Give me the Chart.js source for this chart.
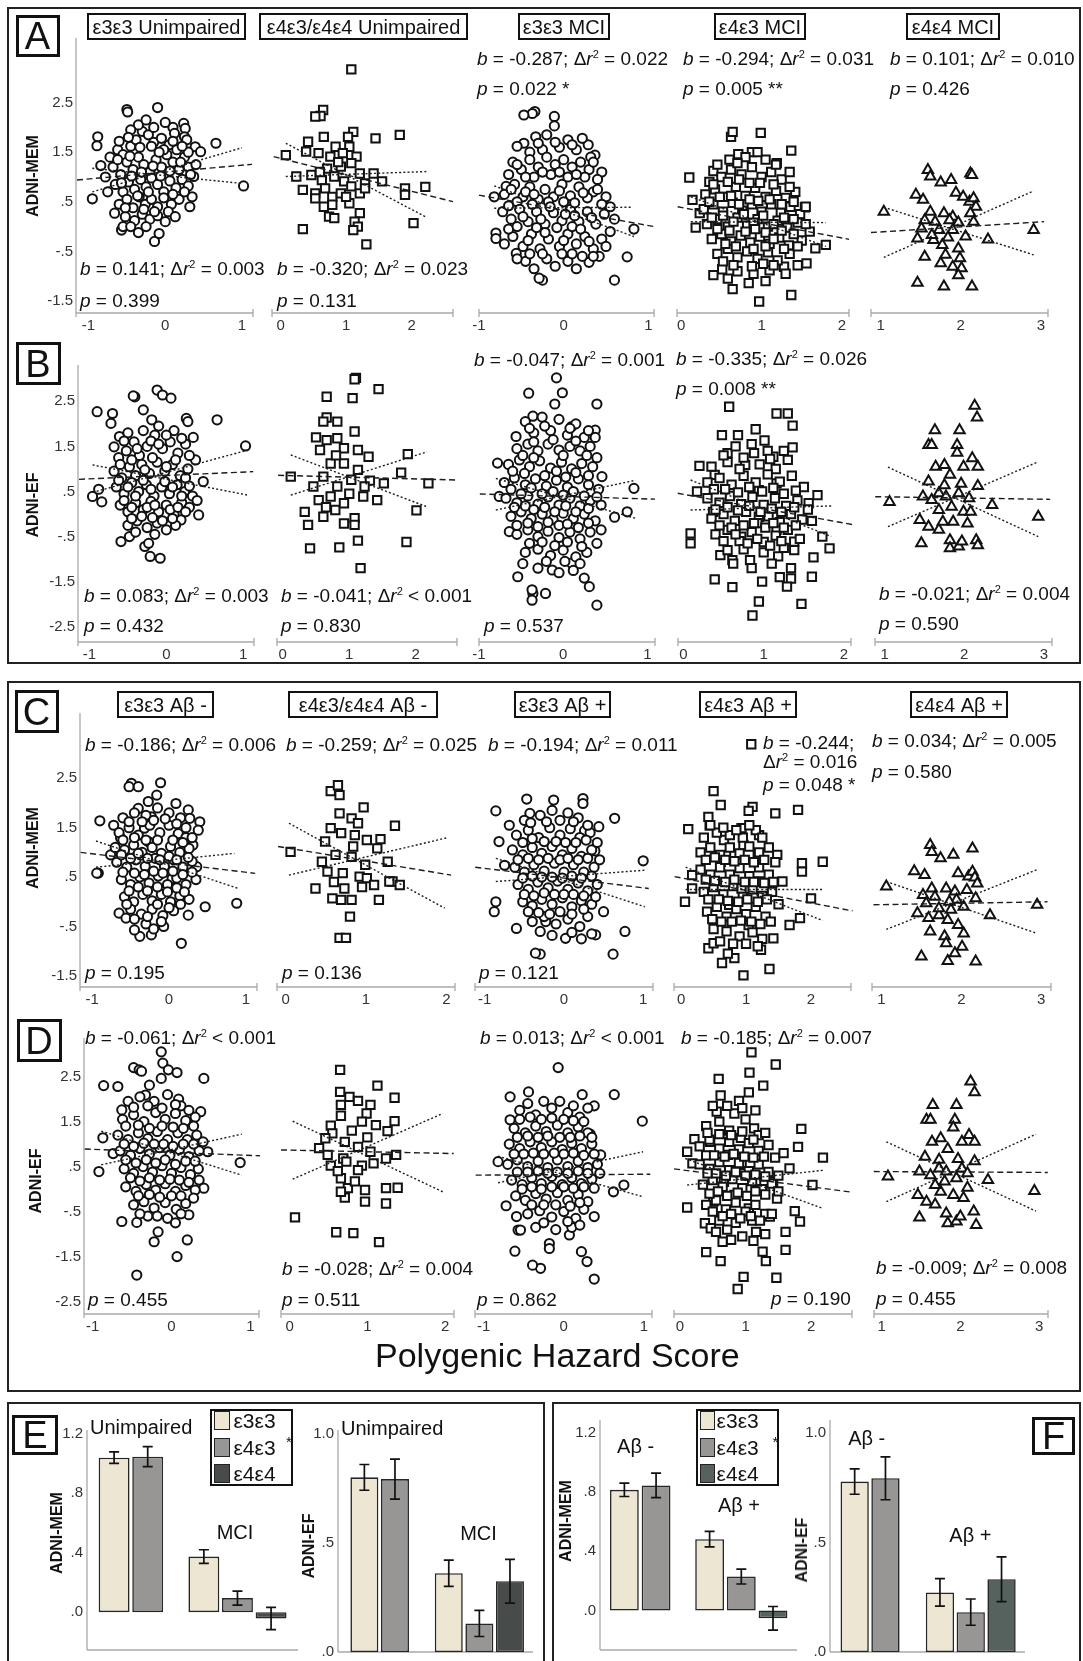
<!DOCTYPE html>
<html><head><meta charset="utf-8">
<script src="https://cdn.jsdelivr.net/npm/chart.js"></script>
<style>
html,body{margin:0;padding:0;background:#fff;}
body{width:1083px;height:1661px;position:relative;overflow:hidden;font-family:'Liberation Sans',Arial,Helvetica,sans-serif;color:#111;}
.frame{position:absolute;border:2px solid #222;box-sizing:border-box;}
.letter{position:absolute;border:3px solid #111;box-sizing:border-box;font-size:38px;display:flex;align-items:center;justify-content:center;line-height:1;}
.title{position:absolute;border:2px solid #111;box-sizing:border-box;font-size:20px;display:flex;align-items:center;justify-content:center;white-space:nowrap;line-height:1;}
.stat{position:absolute;font-size:19px;line-height:19px;white-space:nowrap;}
.stat sup{font-size:11px;line-height:0;vertical-align:7px;}
.lab{position:absolute;font-size:20px;line-height:20px;white-space:nowrap;}
.ylab{position:absolute;font-size:16px;font-weight:bold;white-space:nowrap;line-height:1;transform:translate(-50%,-50%) rotate(-90deg);}
.sw{position:absolute;border:1.5px solid #222;box-sizing:border-box;}
.lg{position:absolute;font-size:21px;line-height:21px;white-space:nowrap;}
canvas{position:absolute;}
</style></head><body>
<script>
// ---------------- DATA ----------------
const xTickVals = [[-1,0,1],[0,1,2],[-1,0,1],[0,1,2],[1,2,3]];
const yTicksMEM = [-1.5,-0.5,0.5,1.5,2.5];
const yTextMEM = ['-1.5','-.5','.5','1.5','2.5'];
const yTicksEF = [-2.5,-1.5,-0.5,0.5,1.5,2.5];
const yTextEF = ['-2.5','-1.5','-.5','.5','1.5','2.5'];

// Panel A : ADNI-MEM by clinical group
const ptsA1 = [[1.02,0.82],[0.66,1.68],[-0.95,0.56],[-0.88,1.81],[-0.89,1.63],[-0.84,1.23],[-0.50,2.36],[-0.49,2.31],[-0.10,2.40],[-0.14,-0.30],[-0.08,-0.14],[-0.57,-0.07],[-0.55,0.00],[-0.66,0.27],[0.24,2.08],[0.10,2.00],[0.26,1.98],[0.25,1.81],[0.39,1.61],[0.46,1.51],[0.37,1.01],
[-0.62,1.55],[-0.55,1.45],[-0.45,1.62],[-0.38,1.75],[-0.30,1.92],[-0.22,1.85],[-0.15,1.70],[-0.05,1.78],[0.05,1.65],[0.15,1.55],
[-0.68,1.20],[-0.58,1.05],[-0.50,1.30],[-0.42,1.15],[-0.35,1.40],[-0.28,1.25],[-0.20,1.10],[-0.12,1.35],[-0.05,1.20],[0.02,1.45],[0.10,1.30],[0.18,1.15],[0.25,1.40],
[-0.65,0.85],[-0.55,0.70],[-0.48,0.90],[-0.40,0.75],[-0.32,0.95],[-0.25,0.80],[-0.18,0.98],[-0.10,0.85],[-0.02,0.70],[0.06,0.92],[0.14,0.78],[0.22,0.95],[0.30,0.82],
[-0.60,0.45],[-0.50,0.55],[-0.42,0.38],[-0.34,0.60],[-0.26,0.45],[-0.18,0.55],[-0.10,0.40],[-0.02,0.58],[0.08,0.45],[0.18,0.55],
[-0.52,0.20],[-0.40,0.12],[-0.30,0.25],[-0.20,0.15],[-0.10,0.22],[0.00,0.10],
[-0.78,1.00],[-0.75,0.70],[-0.72,1.40],[0.30,1.20],[0.35,0.60],[-0.35,2.05],[-0.25,2.15],[-0.15,2.00],[0.00,2.10],[-0.45,1.95],[0.12,1.88],[0.30,1.50],[0.40,1.25],[0.32,0.40],[0.28,1.75],
[-0.60,1.72],[-0.48,1.80],[-0.33,1.60],[-0.18,1.62],[-0.02,1.55],[0.10,1.72],[0.22,1.62],
[-0.62,1.35],[-0.46,1.42],[-0.31,1.10],[-0.16,1.22],[-0.08,1.50],[0.06,1.12],[0.20,1.30],[0.33,1.05],
[-0.57,0.88],[-0.44,1.02],[-0.36,0.62],[-0.22,0.70],[-0.06,1.02],[0.10,0.65],[0.25,0.70],
[-0.52,0.38],[-0.28,0.35],[-0.14,0.30],[0.04,0.30],[0.13,0.20],[-0.45,0.00],[-0.25,0.00],[-0.35,-0.12]];
const ptsA2 = [[1.08,3.17],[0.65,2.35],[0.61,2.23],[0.53,2.22],[1.11,1.91],[1.45,1.78],[1.82,1.85],[0.42,1.71],[0.66,1.81],[0.84,1.61],[1.03,1.81],[1.05,1.61],[0.08,1.44],[0.39,1.51],[0.58,1.48],[0.76,1.41],[1.16,1.41],[1.08,1.28],[0.71,1.17],[0.92,1.21],[0.47,1.04],[0.63,0.94],[0.82,1.01],[0.97,0.91],[1.42,1.07],[1.55,0.91],[1.29,0.87],[0.34,0.74],[0.53,0.67],[0.68,0.77],[0.79,0.60],[1.08,0.81],[1.21,0.67],[1.29,0.77],[1.90,0.77],[2.21,0.80],[1.90,0.64],[0.53,0.57],[1.05,0.47],[0.79,0.44],[0.74,0.20],[0.82,0.17],[1.21,0.27],[1.13,0.10],[1.18,0.00],[1.11,-0.07],[0.34,-0.05],[2.03,0.07],[1.31,-0.36],[0.95,1.48],[1.21,1.07],[0.24,1.01],[0.92,0.67],[0.66,0.40],[0.88,1.30],[1.00,0.60],[0.60,1.10]];
const ptsA3 = [[-0.34,2.32],[-0.11,2.22],[-0.11,2.03],[-0.37,2.28],[-0.47,2.25],[0.29,1.65],[0.37,1.44],[0.35,0.70],[0.75,-0.61],[0.60,-1.08],[-0.25,-1.08],[0.83,-0.05],[-0.80,-0.13],[-0.80,-0.24],[-0.82,0.60],[-0.68,0.81],[-0.56,-0.54],[-0.29,-1.04],
[-0.33,1.81],[-0.47,1.68],[-0.20,1.85],[0.05,1.75],[-0.05,1.60],[0.15,1.55],[-0.40,1.50],[-0.25,1.55],[0.22,1.78],
[-0.60,1.30],[-0.50,1.15],[-0.40,1.35],[-0.30,1.20],[-0.20,1.40],[-0.10,1.25],[0.00,1.35],[0.10,1.20],[0.20,1.30],[0.30,1.15],[-0.65,1.05],[-0.35,1.00],[-0.15,1.05],[0.05,1.00],[0.25,1.00],[0.45,1.10],
[-0.70,0.65],[-0.58,0.85],[-0.48,0.60],[-0.40,0.80],[-0.30,0.55],[-0.22,0.75],[-0.12,0.60],[-0.02,0.85],[0.08,0.62],[0.18,0.80],[0.28,0.58],[0.40,0.75],[0.50,0.60],[-0.55,0.50],[0.00,0.50],
[-0.72,0.30],[-0.62,0.15],[-0.52,0.35],[-0.42,0.10],[-0.32,0.30],[-0.22,0.05],[-0.12,0.28],[-0.02,0.12],[0.08,0.35],[0.18,0.10],[0.28,0.30],[0.38,0.05],[0.48,0.25],[0.55,0.40],[-0.08,-0.02],
[-0.70,-0.35],[-0.60,-0.20],[-0.48,-0.40],[-0.38,-0.15],[-0.28,-0.45],[-0.18,-0.25],[-0.05,-0.40],[0.05,-0.15],[0.15,-0.35],[0.25,-0.20],[0.35,-0.45],[0.45,-0.25],[0.55,-0.10],
[-0.45,-0.70],[-0.35,-0.85],[-0.20,-0.65],[-0.10,-0.80],[0.05,-0.70],[0.15,-0.85],[0.30,-0.72],[0.42,-0.60],
[-0.55,1.62],[-0.30,1.68],[-0.10,1.70],[0.10,1.65],[0.32,1.40],
[-0.55,1.25],[-0.45,1.00],[-0.25,1.10],[-0.05,1.10],[0.15,1.05],[0.35,1.30],[0.40,0.95],
[-0.62,0.75],[-0.45,0.70],[-0.35,0.65],[-0.18,0.50],[-0.05,0.72],[0.13,0.48],[0.23,0.68],[0.45,0.45],
[-0.65,0.42],[-0.48,0.20],[-0.37,0.45],[-0.27,0.15],[-0.16,0.40],[0.02,0.25],[0.13,0.22],[0.33,0.18],[0.60,0.15],
[-0.65,-0.05],[-0.55,0.00],[-0.42,-0.28],[-0.32,-0.02],[-0.22,-0.12],[0.00,-0.28],[0.10,0.00],[0.20,-0.05],[0.30,-0.30],[0.50,-0.40],
[-0.55,-0.65],[-0.40,-0.55],[-0.25,-0.55],[-0.02,-0.55],[0.10,-0.55],[0.22,-0.60],[0.35,-0.60]];
const ptsA4 = [[0.62,1.81],[0.64,1.91],[0.99,1.89],[1.37,1.53],[0.10,0.99],[0.40,1.12],[0.14,0.54],[0.18,-0.02],[0.23,0.27],[1.54,0.39],[1.80,-0.37],[1.67,-0.44],[0.40,-0.98],[0.51,-0.86],[0.64,-1.26],[0.84,-1.14],[0.97,-1.51],[1.37,-1.38],[0.71,1.46],[0.88,1.50],[1.19,1.28],[1.28,-0.81],[1.45,-0.78],[1.56,-0.74],
[0.35,0.90],[0.50,1.00],[0.62,1.15],[0.75,1.05],[0.88,1.20],[1.00,1.00],[1.12,1.10],[1.25,0.95],
[0.30,0.65],[0.42,0.75],[0.55,0.60],[0.68,0.80],[0.80,0.62],[0.92,0.78],[1.05,0.60],[1.18,0.72],[1.30,0.58],[1.42,0.70],
[0.28,0.35],[0.40,0.45],[0.52,0.30],[0.64,0.48],[0.76,0.32],[0.88,0.45],[1.00,0.30],[1.12,0.45],[1.24,0.28],[1.36,0.40],[1.48,0.25],
[0.32,0.05],[0.45,0.15],[0.58,0.00],[0.70,0.18],[0.82,0.02],[0.95,0.15],[1.08,0.00],[1.20,0.12],[1.32,-0.02],[1.45,0.08],[1.60,-0.10],
[0.38,-0.25],[0.50,-0.15],[0.62,-0.30],[0.74,-0.18],[0.86,-0.32],[0.98,-0.20],[1.10,-0.35],[1.22,-0.22],[1.34,-0.38],[1.50,-0.28],
[0.45,-0.55],[0.58,-0.45],[0.70,-0.62],[0.82,-0.50],[0.95,-0.65],[1.08,-0.52],[1.20,-0.68],[1.35,-0.55],
[0.60,1.35],[0.80,1.40],[1.05,1.35],[0.70,-0.90],[0.90,-0.95],[1.10,-0.88],
[0.45,1.25],[0.70,1.28],[0.95,1.50],[1.18,1.25],[1.35,1.10],
[0.40,0.85],[0.58,0.90],[0.72,0.95],[0.85,0.88],[0.98,0.88],[1.15,0.85],[1.35,0.80],
[0.35,0.50],[0.48,0.60],[0.62,0.62],[0.72,0.45],[0.85,0.55],[0.96,0.52],[1.10,0.55],[1.25,0.45],[1.40,0.50],[1.55,0.40],
[0.38,0.18],[0.52,0.22],[0.65,0.10],[0.78,0.25],[0.90,0.08],[1.02,0.22],[1.15,0.05],[1.28,0.18],[1.40,0.15],[1.55,0.05],
[0.45,-0.05],[0.60,-0.08],[0.80,-0.10],[0.92,-0.05],[1.05,-0.12],[1.25,-0.08],[1.40,-0.15],
[0.55,-0.35],[0.68,-0.40],[0.90,-0.45],[1.05,-0.40],[1.15,-0.25],[1.28,-0.45],[1.45,-0.40],
[0.52,-0.70],[0.65,-0.78],[0.88,-0.80],[1.02,-0.75],[1.15,-0.78],[1.30,-0.95],[0.58,-1.05],[1.05,-1.10]];
const ptsA5 = [[1.59,1.14],[1.62,1.01],[1.75,0.89],[1.88,0.94],[2.12,1.07],[2.14,1.04],[1.44,0.64],[1.53,0.54],[1.94,0.68],[2.03,0.60],[2.11,0.50],[2.16,0.57],[2.19,0.40],[1.04,0.30],[1.62,0.30],[1.79,0.27],[1.90,0.20],[2.12,0.27],[1.55,0.13],[1.68,0.10],[1.86,0.13],[1.97,0.08],[2.16,0.10],[1.51,-0.04],[1.73,-0.07],[1.90,-0.07],[1.46,-0.24],[1.66,-0.27],[1.77,-0.37],[1.97,-0.44],[2.34,-0.26],[2.91,-0.07],[1.55,-0.61],[1.81,-0.57],[1.99,-0.64],[1.75,-0.74],[1.90,-0.81],[2.01,-0.84],[1.97,-0.98],[1.46,-1.13],[1.79,-1.21],[2.14,-1.21],[2.06,-0.20],[1.64,-0.17],[1.84,-0.22]];
// Panel B : ADNI-EF by clinical group
const ptsB1 = [[-0.90,2.27],[-0.70,2.23],[-0.72,2.01],[-0.41,2.60],[-0.43,2.62],[-0.12,2.75],[-0.05,2.64],[0.06,2.57],[0.26,2.12],[0.28,2.05],[0.66,2.09],[1.03,1.51],[-0.96,0.39],[-0.88,0.55],[-0.84,0.27],[0.48,0.72],[0.42,-0.02],[-0.59,-0.61],[-0.48,-0.50],[-0.28,-0.72],[-0.21,-0.94],[-0.08,-0.98],[-0.23,-0.65],[0.19,-0.13],[-0.68,1.49],[-0.61,1.72],[-0.30,2.31],[-0.19,2.09],
[-0.62,1.25],[-0.52,1.40],[-0.42,1.60],[-0.35,1.30],[-0.25,1.50],[-0.15,1.75],[-0.05,1.45],[0.05,1.60],[0.15,1.35],[0.25,1.55],
[-0.68,0.95],[-0.58,0.80],[-0.48,1.05],[-0.40,0.85],[-0.32,1.10],[-0.22,0.90],[-0.12,1.15],[-0.02,0.95],[0.08,1.10],[0.18,0.85],[0.28,1.00],
[-0.65,0.60],[-0.55,0.45],[-0.45,0.70],[-0.36,0.50],[-0.26,0.65],[-0.16,0.40],[-0.06,0.60],[0.04,0.45],[0.14,0.65],[0.24,0.50],[0.34,0.40],
[-0.60,0.20],[-0.50,0.05],[-0.40,0.25],[-0.30,0.10],[-0.20,0.28],[-0.10,0.05],[0.00,0.20],[0.10,0.00],[0.20,0.25],[0.30,0.15],
[-0.50,-0.25],[-0.38,-0.15],[-0.25,-0.30],[-0.12,-0.20],[0.00,-0.35],[0.12,-0.25],[-0.30,1.85],[-0.10,1.95],[0.10,1.85],[-0.50,1.80],[0.38,1.20],[0.40,0.30],[0.35,1.70],
[-0.55,1.62],[-0.38,1.45],[-0.20,1.62],[-0.10,1.55],[0.00,1.75],[0.20,1.68],[0.30,1.30],
[-0.60,1.10],[-0.45,1.20],[-0.28,0.98],[-0.18,1.25],[0.00,1.05],[0.12,1.20],[0.25,0.80],
[-0.62,0.75],[-0.50,0.60],[-0.40,0.40],[-0.30,0.75],[-0.20,0.55],[-0.02,0.72],[0.08,0.60],[0.20,0.40],[0.30,0.62],
[-0.55,0.30],[-0.45,0.15],[-0.25,0.15],[-0.15,0.20],[0.05,0.10],[0.15,0.15],[0.25,0.05],
[-0.45,-0.10],[-0.32,-0.05],[-0.18,-0.08],[-0.05,-0.15],[0.08,-0.10],[-0.40,-0.40],[-0.15,-0.45]];
const ptsB2 = [[1.10,3.02],[1.08,2.99],[1.44,2.77],[0.66,2.60],[1.05,2.57],[0.66,2.14],[0.61,2.05],[0.82,2.05],[1.08,1.83],[0.50,1.70],[0.66,1.64],[0.82,1.68],[0.92,1.46],[1.13,1.42],[0.56,1.42],[1.29,1.27],[1.88,1.33],[0.12,0.83],[0.61,0.83],[1.78,0.92],[2.19,0.68],[1.52,0.68],[1.31,0.74],[1.03,0.76],[0.46,0.61],[0.82,0.61],[1.21,0.39],[1.42,0.31],[2.01,0.08],[0.33,0.05],[0.38,-0.24],[0.61,-0.06],[0.79,0.09],[0.92,0.24],[1.08,-0.09],[0.92,-0.21],[1.08,-0.24],[0.41,-0.76],[0.85,-0.74],[1.13,-0.59],[1.86,-0.62],[1.17,-1.20],[0.72,0.39],[0.54,0.31],[1.23,0.61],[0.72,1.12],[0.92,1.12],[1.13,0.98],[0.80,1.30],[1.00,0.45],[0.65,0.15]];
const ptsB3 = [[-0.08,3.02],[-0.01,2.69],[0.40,2.44],[-0.10,2.44],[0.10,1.94],[0.38,1.86],[0.38,1.70],[0.46,0.83],[0.84,0.57],[0.76,0.05],[0.61,-0.07],[0.40,-2.02],[0.25,-1.42],[0.31,-1.61],[0.10,-1.09],[0.40,-0.65],[-0.21,-1.76],[-0.36,-1.76],[-0.13,-1.24],[-0.41,2.68],[-0.36,2.17],[-0.78,1.13],[-0.56,1.72],[-0.54,-1.39],[-0.37,-1.68],[-0.37,-1.91],[-0.64,-0.39],[-0.76,0.39],
[-0.45,2.05],[-0.25,2.15],[-0.05,2.10],[0.15,2.00],[-0.35,1.80],[-0.15,1.85],[0.05,1.75],[0.25,1.70],
[-0.55,1.45],[-0.42,1.55],[-0.30,1.40],[-0.18,1.55],[-0.05,1.42],[0.08,1.50],[0.20,1.40],[0.32,1.50],
[-0.65,1.10],[-0.52,1.20],[-0.40,1.05],[-0.28,1.18],[-0.15,1.02],[-0.02,1.15],[0.10,1.00],[0.22,1.12],[0.35,1.05],
[-0.70,0.70],[-0.58,0.80],[-0.45,0.65],[-0.33,0.78],[-0.20,0.62],[-0.08,0.75],[0.05,0.60],[0.18,0.78],[0.30,0.65],[0.42,0.55],
[-0.68,0.35],[-0.55,0.25],[-0.42,0.40],[-0.30,0.22],[-0.18,0.38],[-0.05,0.20],[0.08,0.35],[0.20,0.18],[0.32,0.30],[0.45,0.20],
[-0.62,-0.05],[-0.50,0.05],[-0.38,-0.10],[-0.25,0.00],[-0.12,-0.12],[0.00,0.02],[0.12,-0.10],[0.25,0.00],[0.38,-0.15],
[-0.55,-0.45],[-0.42,-0.35],[-0.30,-0.50],[-0.18,-0.38],[-0.05,-0.52],[0.08,-0.40],[0.20,-0.55],[0.32,-0.40],
[-0.45,-0.85],[-0.30,-0.78],[-0.15,-0.92],[0.00,-0.80],[0.15,-0.95],[0.28,-0.85],
[-0.30,-1.20],[-0.05,-1.30],[0.12,-1.25],[-0.48,-1.10],
[-0.40,1.90],[-0.22,1.95],[0.08,1.90],[0.30,1.85],
[-0.48,1.30],[-0.35,1.60],[-0.12,1.65],[0.00,1.30],[0.15,1.62],[0.28,1.30],[0.40,1.25],
[-0.60,0.95],[-0.46,0.90],[-0.35,1.25],[-0.22,0.85],[-0.08,0.95],[0.03,0.82],[0.15,0.92],[0.30,0.85],
[-0.62,0.55],[-0.50,0.45],[-0.38,0.58],[-0.25,0.45],[-0.12,0.50],[0.00,0.42],[0.12,0.50],[0.25,0.40],[0.40,0.38],
[-0.58,0.15],[-0.45,0.18],[-0.35,0.10],[-0.22,0.15],[-0.10,0.05],[0.03,0.18],[0.15,0.05],[0.30,0.12],
[-0.55,-0.25],[-0.42,-0.20],[-0.30,-0.28],[-0.18,-0.18],[-0.05,-0.25],[0.05,-0.22],[0.18,-0.30],[0.30,-0.20],[0.45,-0.35],
[-0.40,-0.65],[-0.25,-0.62],[-0.10,-0.70],[0.05,-0.62],[0.22,-0.72],[-0.20,-1.05],[0.02,-1.05],[0.20,-1.10]];
const ptsB4 = [[0.57,2.38],[0.20,1.07],[0.48,1.75],[0.68,1.75],[0.90,1.88],[1.01,1.63],[1.16,2.23],[1.30,2.23],[1.36,1.96],[1.36,1.48],[1.12,1.27],[0.55,1.35],[0.39,0.87],[0.77,1.09],[0.17,0.50],[0.37,0.05],[1.67,0.42],[1.56,0.24],[1.60,-0.15],[1.73,-0.50],[1.82,-0.76],[0.09,-0.43],[0.09,-0.65],[0.46,-0.91],[0.61,-1.02],[0.83,-1.02],[1.18,-0.94],[1.34,-1.20],[1.62,-0.96],[1.60,-1.39],[1.34,-1.43],[1.29,-1.61],[0.39,-1.45],[0.61,-1.62],[0.94,-1.94],[0.86,-2.25],[1.47,-1.99],[0.72,-0.50],[0.94,-0.06],[1.16,-0.35],[1.38,-0.61],[0.94,0.53],[1.16,0.68],
[0.35,1.05],[0.55,1.15],[0.75,1.25],[0.95,1.10],[1.15,1.00],[1.30,1.20],
[0.30,0.70],[0.45,0.80],[0.60,0.65],[0.75,0.85],[0.90,0.70],[1.05,0.88],[1.20,0.72],[1.35,0.85],[1.50,0.60],
[0.30,0.35],[0.45,0.25],[0.58,0.40],[0.72,0.22],[0.86,0.38],[1.00,0.20],[1.14,0.35],[1.28,0.18],[1.42,0.30],
[0.35,-0.10],[0.50,0.00],[0.64,-0.15],[0.78,0.05],[0.92,-0.20],[1.06,-0.05],[1.20,-0.18],[1.34,0.00],[1.48,-0.12],
[0.40,-0.45],[0.55,-0.35],[0.70,-0.60],[0.85,-0.40],[1.00,-0.62],[1.15,-0.48],[1.30,-0.35],[1.45,-0.55],
[0.55,-0.80],[0.75,-0.78],[1.00,-0.85],[1.25,-0.75],[0.65,1.50],[0.85,1.55],[1.05,1.40],
[0.50,1.30],[0.70,1.00],[0.88,1.35],[1.08,1.22],[1.25,1.40],
[0.38,0.55],[0.52,0.55],[0.68,0.48],[0.82,0.60],[0.98,0.50],[1.12,0.58],[1.25,0.45],[1.40,0.52],
[0.40,0.10],[0.55,0.15],[0.68,0.08],[0.82,0.18],[0.96,0.05],[1.10,0.12],[1.22,0.05],[1.38,0.15],[1.55,0.10],
[0.45,-0.25],[0.60,-0.30],[0.75,-0.25],[0.88,-0.20],[1.02,-0.30],[1.12,-0.20],[1.25,-0.30],[1.40,-0.25],
[0.50,-0.60],[0.65,-0.45],[0.80,-0.65],[0.92,-0.55],[1.08,-0.70],[1.22,-0.60],[1.38,-0.80],
[0.62,-1.10],[0.85,-1.20],[1.10,-1.10],[1.20,-1.40],[0.98,-1.50]];
const ptsB5 = [[2.13,2.40],[2.16,2.14],[1.63,1.86],[1.94,1.86],[1.55,1.53],[1.59,1.53],[1.91,1.53],[1.91,1.36],[1.64,1.05],[1.75,1.09],[1.82,0.87],[1.99,1.05],[2.10,1.24],[2.17,1.05],[1.55,0.72],[1.75,0.64],[1.96,0.67],[2.17,0.62],[1.06,0.27],[1.48,0.39],[1.59,0.31],[1.68,0.46],[1.77,0.39],[1.93,0.46],[2.06,0.35],[2.35,0.20],[2.93,-0.06],[1.44,-0.13],[1.55,-0.28],[1.68,-0.35],[1.86,-0.17],[1.99,0.05],[2.08,0.05],[1.46,-0.65],[1.82,-0.58],[1.82,-0.76],[1.93,-0.72],[1.97,-0.61],[2.15,-0.58],[2.17,-0.69],[1.73,-0.17],[1.84,0.16],[1.68,0.09],[2.04,-0.21]];
// Panel C : ADNI-MEM by amyloid group
const ptsC1 = [[-0.49,2.40],[-0.52,2.33],[-0.40,2.33],[-0.11,2.41],[-0.16,2.16],[0.09,1.99],[0.25,1.86],[0.27,1.69],[0.40,1.62],[0.38,1.45],[-0.90,1.64],[-0.72,1.55],[-0.92,0.58],[-0.94,0.58],[0.36,0.71],[0.47,-0.10],[0.88,-0.03],[0.25,-0.27],[0.16,-0.84],[-0.38,-0.70],[-0.23,-0.67],[-0.07,-0.50],[-0.45,-0.57],[-0.65,-0.23],[-0.56,-0.33],[-0.23,1.72],[-0.40,1.89],[-0.27,2.03],[0.31,1.15],[0.04,0.47],[-0.32,1.49],[-0.63,1.29],[-0.76,0.95],[-0.27,1.22],
[-0.60,1.70],[-0.45,1.80],[-0.30,1.75],[-0.15,1.90],[0.00,1.80],[0.15,1.70],
[-0.65,1.40],[-0.52,1.50],[-0.40,1.35],[-0.25,1.55],[-0.12,1.40],[0.00,1.55],[0.12,1.38],[0.22,1.50],
[-0.70,1.10],[-0.58,1.05],[-0.46,1.15],[-0.35,1.00],[-0.22,1.10],[-0.10,0.98],[0.02,1.12],[0.14,1.00],[0.26,1.08],
[-0.68,0.80],[-0.55,0.70],[-0.43,0.85],[-0.31,0.72],[-0.18,0.88],[-0.06,0.72],[0.06,0.85],[0.18,0.70],[0.30,0.82],
[-0.62,0.45],[-0.50,0.35],[-0.38,0.50],[-0.26,0.38],[-0.14,0.52],[-0.02,0.35],[0.10,0.48],[0.22,0.35],[0.35,0.45],
[-0.58,0.10],[-0.46,0.00],[-0.34,0.15],[-0.22,0.02],[-0.10,0.15],[0.02,0.00],[0.14,0.12],[0.26,0.05],
[-0.50,-0.15],[-0.36,-0.25],[-0.22,-0.15],[-0.08,-0.28],[0.06,-0.18],[-0.30,-0.45],[-0.10,-0.40],
[-0.52,1.62],[-0.35,1.62],[-0.20,1.65],[-0.05,1.68],[0.10,1.58],[0.22,1.30],
[-0.60,1.25],[-0.45,1.30],[-0.30,1.25],[-0.15,1.25],[0.05,1.25],[0.18,1.20],[0.30,1.30],
[-0.62,0.95],[-0.50,0.88],[-0.40,0.98],[-0.28,0.88],[-0.12,0.85],[0.00,0.92],[0.10,0.85],[0.25,0.90],
[-0.60,0.60],[-0.45,0.58],[-0.32,0.55],[-0.20,0.62],[-0.08,0.58],[0.05,0.62],[0.18,0.55],[0.30,0.60],
[-0.52,0.22],[-0.40,0.30],[-0.28,0.22],[-0.15,0.30],[-0.02,0.20],[0.10,0.28],[0.20,0.20],
[-0.45,-0.35],[-0.28,-0.30],[-0.15,-0.05],[0.00,-0.12],[0.15,-0.05],[-0.20,-0.55],[-0.55,-0.05]];
const ptsC2 = [[0.56,2.24],[0.65,2.36],[0.67,2.16],[0.97,1.91],[1.36,1.54],[1.18,1.27],[0.67,1.79],[0.82,1.69],[0.90,1.59],[0.56,1.49],[0.69,1.39],[0.86,1.35],[1.01,1.25],[0.06,1.01],[0.82,0.91],[0.99,0.75],[1.27,0.81],[1.33,0.41],[1.42,0.34],[1.29,0.41],[0.52,0.61],[0.71,0.58],[0.92,0.51],[1.01,0.48],[1.16,0.04],[0.37,0.27],[0.58,0.07],[0.69,0.04],[0.82,0.04],[0.80,-0.30],[0.67,-0.73],[0.75,-0.73],[1.10,0.34],[0.62,0.95],[0.49,1.22],[0.73,0.27],[0.45,0.81],[1.14,1.08],[0.84,1.12],[0.95,0.30],[0.60,0.40]];
const ptsC3 = [[-0.13,2.06],[0.24,2.09],[0.24,1.99],[0.64,1.69],[0.44,1.52],[0.26,1.44],[0.39,1.03],[1.00,0.83],[0.77,-0.60],[0.62,-1.06],[-0.30,-1.06],[0.40,-0.67],[0.22,-0.75],[0.50,-0.20],[0.02,-0.74],[-0.23,-0.40],[-0.47,2.08],[-0.86,1.84],[-0.69,1.55],[-0.82,1.22],[-0.75,0.74],[-0.88,-0.20],[-0.86,0.00],[-0.60,-0.54],[-0.36,-1.04],[-0.43,1.79],
[-0.50,1.65],[-0.30,1.75],[-0.15,1.85],[0.05,1.80],[0.18,1.70],
[-0.60,1.35],[-0.45,1.45],[-0.32,1.30],[-0.18,1.50],[-0.05,1.35],[0.08,1.48],[0.20,1.30],[0.33,1.40],
[-0.65,1.05],[-0.52,0.95],[-0.40,1.10],[-0.28,0.98],[-0.15,1.12],[-0.02,0.95],[0.10,1.08],[0.22,0.92],[0.35,1.05],
[-0.62,0.70],[-0.50,0.60],[-0.38,0.75],[-0.25,0.62],[-0.12,0.78],[0.00,0.60],[0.12,0.75],[0.25,0.60],[0.38,0.70],
[-0.58,0.35],[-0.45,0.25],[-0.33,0.40],[-0.20,0.28],[-0.08,0.42],[0.05,0.25],[0.18,0.38],[0.30,0.22],[0.42,0.35],
[-0.52,0.00],[-0.40,-0.08],[-0.28,0.05],[-0.15,-0.05],[-0.02,0.08],[0.10,-0.10],[0.22,0.02],[0.35,-0.05],
[-0.40,-0.40],[-0.25,-0.30],[-0.10,-0.45],[0.05,-0.35],[0.20,-0.50],[0.30,-0.30],
[-0.42,1.60],[-0.22,1.62],[-0.05,1.65],[0.12,1.62],[0.30,1.55],
[-0.52,1.20],[-0.40,1.28],[-0.25,1.22],[-0.10,1.22],[0.02,1.20],[0.15,1.20],[0.28,1.25],[0.42,1.20],
[-0.58,0.85],[-0.45,0.88],[-0.32,0.85],[-0.20,0.88],[-0.05,0.85],[0.05,0.88],[0.18,0.85],[0.30,0.88],[0.45,0.85],
[-0.52,0.48],[-0.40,0.52],[-0.28,0.50],[-0.15,0.50],[-0.02,0.48],[0.10,0.52],[0.22,0.48],[0.35,0.52],
[-0.50,0.15],[-0.38,0.12],[-0.25,0.18],[-0.12,0.15],[0.00,0.15],[0.12,0.15],[0.25,0.12],[0.40,0.10],
[-0.45,-0.20],[-0.32,-0.22],[-0.18,-0.25],[-0.05,-0.20],[0.10,-0.25],[0.25,-0.15],
[-0.30,-0.60],[-0.15,-0.68],[0.10,-0.62],[0.35,-0.65]];
const ptsC4 = [[0.50,2.24],[0.61,1.96],[1.10,1.92],[1.04,1.84],[1.45,1.79],[1.80,1.86],[0.11,1.47],[0.42,1.72],[0.44,1.55],[0.93,1.49],[1.20,1.35],[0.66,1.25],[0.96,1.15],[1.18,0.95],[1.48,0.95],[1.86,0.78],[2.18,0.81],[1.86,0.61],[0.17,0.54],[0.06,0.00],[0.17,0.27],[1.56,0.41],[2.00,0.07],[1.83,-0.33],[1.67,-0.47],[1.42,-0.74],[0.42,-0.94],[0.50,-0.84],[0.63,-1.24],[0.82,-1.14],[0.96,-1.49],[1.36,-1.36],[1.23,-0.97],[1.04,-0.47],[0.74,-0.06],[0.93,0.27],[1.20,0.41],[0.61,0.81],[0.82,0.95],[1.08,3.19],
[0.35,1.30],[0.55,1.40],[0.75,1.35],[0.95,1.30],[1.15,1.45],
[0.30,1.00],[0.45,1.10],[0.60,0.95],[0.75,1.10],[0.90,0.98],[1.05,1.12],[1.20,1.00],[1.35,1.10],
[0.30,0.65],[0.45,0.55],[0.60,0.70],[0.75,0.55],[0.90,0.68],[1.05,0.52],[1.20,0.70],[1.35,0.55],
[0.35,0.20],[0.50,0.30],[0.65,0.15],[0.80,0.32],[0.95,0.10],[1.10,0.25],[1.25,0.12],[1.40,0.20],
[0.40,-0.20],[0.55,-0.10],[0.70,-0.30],[0.85,-0.15],[1.00,-0.25],[1.15,-0.10],[1.30,-0.30],
[0.50,-0.55],[0.70,-0.60],[0.90,-0.70],[1.10,-0.62],[1.25,-0.75],
[0.45,1.55],[0.65,1.50],[0.85,1.45],[1.05,1.55],[1.25,1.30],
[0.38,0.85],[0.52,0.90],[0.68,0.85],[0.82,0.82],[0.98,0.85],[1.12,0.80],[1.28,0.85],[1.45,0.80],
[0.38,0.45],[0.52,0.42],[0.68,0.40],[0.82,0.45],[0.98,0.40],[1.12,0.40],[1.28,0.38],[1.42,0.40],
[0.42,0.05],[0.58,0.05],[0.72,0.02],[0.88,0.00],[1.02,0.05],[1.18,0.00],[1.32,0.05],[1.50,-0.05],
[0.48,-0.35],[0.62,-0.40],[0.78,-0.40],[0.92,-0.38],[1.08,-0.40],[1.22,-0.45],[1.38,-0.40],
[0.60,-0.80],[0.80,-0.85],[1.00,-0.85],[1.18,-0.90],[0.72,-1.05]];
const ptsC5 = [[1.61,1.15],[1.63,1.01],[1.74,0.88],[1.90,0.95],[2.14,1.08],[1.41,0.62],[1.54,0.54],[1.96,0.58],[2.09,0.51],[2.14,0.61],[2.17,0.49],[2.20,0.37],[1.06,0.31],[1.63,0.27],[1.81,0.27],[1.92,0.21],[2.07,0.24],[1.52,0.14],[1.67,0.10],[1.94,0.04],[2.18,0.07],[1.56,-0.03],[1.87,-0.16],[2.03,-0.10],[2.95,-0.06],[1.45,-0.23],[1.59,-0.33],[1.72,-0.27],[1.83,-0.37],[1.96,-0.47],[2.36,-0.27],[1.61,-0.60],[1.79,-0.70],[2.03,-0.64],[1.81,-0.84],[2.01,-0.91],[1.92,-1.04],[1.50,-1.11],[1.83,-1.20],[2.18,-1.21],[1.72,-0.13],[1.85,0.00]];
// Panel D : ADNI-EF by amyloid group
const ptsD1 = [[-0.13,3.05],[-0.11,2.80],[-0.04,2.65],[0.07,2.59],[-0.48,2.70],[-0.41,2.65],[-0.38,2.62],[0.41,2.46],[-0.86,2.30],[-0.68,2.28],[-0.28,2.31],[-0.63,1.76],[0.37,1.72],[-0.87,1.14],[-0.92,0.39],[-0.74,0.79],[0.46,0.83],[0.87,0.59],[0.41,0.02],[0.22,-0.57],[-0.63,-0.72],[-0.44,-0.74],[-0.17,-0.95],[-0.22,-1.17],[0.20,-1.13],[0.07,-1.50],[-0.44,-1.91],[-0.13,2.46],[0.09,2.00],[-0.33,2.09],
[-0.55,1.95],[-0.40,2.05],[-0.22,1.95],[-0.05,2.10],[0.12,1.85],
[-0.62,1.55],[-0.48,1.65],[-0.35,1.50],[-0.20,1.70],[-0.08,1.55],[0.05,1.68],[0.18,1.52],[0.30,1.60],
[-0.68,1.20],[-0.55,1.10],[-0.42,1.25],[-0.30,1.12],[-0.18,1.28],[-0.05,1.10],[0.08,1.25],[0.20,1.10],[0.32,1.20],
[-0.65,0.85],[-0.52,0.75],[-0.40,0.90],[-0.28,0.78],[-0.15,0.92],[-0.02,0.75],[0.10,0.88],[0.22,0.72],[0.35,0.85],
[-0.60,0.45],[-0.48,0.35],[-0.36,0.50],[-0.24,0.38],[-0.12,0.52],[0.00,0.35],[0.12,0.48],[0.24,0.32],[0.34,0.45],
[-0.58,0.05],[-0.45,-0.05],[-0.32,0.10],[-0.20,-0.02],[-0.08,0.12],[0.05,-0.05],[0.18,0.08],[0.30,-0.02],
[-0.48,-0.35],[-0.35,-0.28],[-0.22,-0.42],[-0.08,-0.30],[0.06,-0.45],[0.18,-0.32],[-0.30,-0.60],[-0.05,-0.65],
[-0.48,1.82],[-0.30,1.85],[-0.12,1.80],[0.05,1.88],[0.22,1.75],
[-0.58,1.40],[-0.42,1.42],[-0.28,1.35],[-0.12,1.40],[0.02,1.38],[0.15,1.35],[0.28,1.40],
[-0.60,1.00],[-0.48,0.95],[-0.35,1.02],[-0.22,1.00],[-0.10,1.00],[0.02,0.95],[0.15,1.00],[0.28,1.00],[0.40,1.05],
[-0.58,0.65],[-0.45,0.58],[-0.32,0.65],[-0.20,0.58],[-0.08,0.65],[0.05,0.55],[0.18,0.62],[0.30,0.62],
[-0.52,0.25],[-0.40,0.18],[-0.28,0.25],[-0.15,0.20],[-0.02,0.22],[0.10,0.20],[0.22,0.15],[0.35,0.20],
[-0.42,-0.15],[-0.28,-0.12],[-0.15,-0.18],[0.00,-0.15],[0.12,-0.15],[0.28,-0.20],
[-0.40,-0.55],[-0.18,-0.60],[0.05,-0.75],[0.12,-0.55]];
const ptsD2 = [[0.65,2.65],[1.13,2.30],[1.35,2.03],[0.65,2.16],[0.77,2.05],[0.88,1.96],[1.04,1.87],[0.66,1.87],[0.99,1.68],[1.35,1.51],[0.66,1.63],[0.93,1.50],[1.11,1.42],[0.53,1.41],[1.26,1.29],[0.55,1.24],[0.38,0.91],[1.04,0.83],[1.37,0.76],[1.24,0.68],[0.69,0.68],[0.53,0.52],[0.93,0.52],[1.08,0.57],[0.66,0.24],[0.88,0.42],[0.75,0.02],[1.24,0.02],[1.39,0.03],[0.71,-0.19],[0.97,-0.28],[1.24,-0.32],[0.07,-0.63],[0.60,-0.96],[0.82,-0.98],[1.15,-1.18],[0.46,1.13],[0.71,1.05],[0.88,0.94],[0.73,0.61],[0.49,0.76],[0.84,0.17],[0.66,-0.06],[0.97,-0.02],[0.80,1.30],[1.00,1.15],[0.62,0.40]];
const ptsD3 = [[-0.07,2.70],[0.23,2.10],[0.63,2.10],[0.38,1.85],[0.98,1.51],[0.33,1.22],[0.46,0.76],[0.75,0.09],[0.62,-0.06],[0.38,-0.61],[0.22,-1.39],[0.29,-1.61],[0.38,-2.00],[-0.18,-1.21],[-0.18,-1.32],[-0.29,-1.76],[0.07,-1.02],[-0.67,2.05],[-0.44,2.16],[-0.67,1.54],[-0.82,0.61],[-0.72,-0.37],[-0.61,-1.38],[-0.57,-0.91],[-0.54,-0.91],[-0.39,-1.69],[-0.59,-0.61],
[-0.55,1.75],[-0.35,1.65],[-0.15,1.80],[0.05,1.70],[0.20,1.60],
[-0.62,1.35],[-0.48,1.25],[-0.35,1.40],[-0.22,1.28],[-0.08,1.42],[0.05,1.25],[0.18,1.38],[0.30,1.25],
[-0.68,1.00],[-0.55,0.90],[-0.42,1.05],[-0.28,0.92],[-0.15,1.05],[-0.02,0.88],[0.10,1.02],[0.22,0.90],[0.35,1.00],
[-0.70,0.55],[-0.58,0.65],[-0.45,0.50],[-0.32,0.62],[-0.20,0.48],[-0.08,0.65],[0.05,0.50],[0.18,0.62],[0.30,0.48],[0.42,0.55],
[-0.65,0.20],[-0.52,0.10],[-0.40,0.25],[-0.28,0.12],[-0.15,0.28],[-0.02,0.10],[0.10,0.25],[0.22,0.12],[0.35,0.22],
[-0.60,-0.15],[-0.48,-0.25],[-0.35,-0.10],[-0.22,-0.22],[-0.08,-0.08],[0.05,-0.25],[0.18,-0.12],[0.30,-0.28],
[-0.45,-0.55],[-0.30,-0.48],[-0.15,-0.62],[0.00,-0.50],[0.15,-0.65],[0.25,-0.45],
[-0.35,-0.85],[-0.10,-0.90],[0.10,-0.85],
[-0.45,1.90],[-0.25,1.95],[-0.05,1.95],[0.12,1.85],[0.30,1.80],
[-0.55,1.55],[-0.42,1.60],[-0.28,1.55],[-0.15,1.58],[0.00,1.55],[0.12,1.52],[0.25,1.50],
[-0.58,1.15],[-0.45,1.18],[-0.32,1.15],[-0.20,1.18],[-0.05,1.15],[0.08,1.15],[0.20,1.18],[0.35,1.15],
[-0.62,0.78],[-0.50,0.78],[-0.38,0.80],[-0.25,0.78],[-0.12,0.80],[0.00,0.78],[0.12,0.80],[0.25,0.75],[0.38,0.78],
[-0.58,0.38],[-0.45,0.38],[-0.32,0.40],[-0.20,0.35],[-0.08,0.38],[0.05,0.35],[0.18,0.40],[0.30,0.35],[0.45,0.35],
[-0.52,0.00],[-0.40,0.05],[-0.28,0.00],[-0.15,0.05],[0.00,0.05],[0.12,0.02],[0.25,0.05],[0.38,0.02],
[-0.40,-0.35],[-0.25,-0.35],[-0.10,-0.35],[0.08,-0.38],[0.20,-0.30],
[-0.25,-0.75],[0.05,-0.72],[0.20,-0.80]];
const ptsD4 = [[1.09,3.04],[1.46,2.77],[1.06,2.59],[0.59,2.45],[1.27,2.30],[1.05,2.15],[0.62,2.08],[0.90,1.96],[0.56,1.72],[0.83,1.68],[1.13,1.35],[0.93,1.14],[0.22,1.11],[0.46,1.05],[1.85,1.34],[1.80,0.94],[2.18,0.70],[0.11,0.83],[0.19,0.57],[1.67,0.46],[2.02,0.09],[0.11,-0.41],[0.38,-0.76],[0.47,-0.87],[0.65,-1.17],[0.78,-1.13],[1.16,-0.95],[1.37,-0.61],[1.61,-0.95],[1.75,-0.49],[1.83,-0.72],[1.26,-1.39],[1.61,-1.35],[0.40,-1.40],[0.62,-1.60],[1.31,-1.60],[0.97,-1.95],[1.47,-1.97],[0.88,-2.22],[0.73,0.76],[0.94,0.54],[1.16,0.16],[1.42,0.16],[0.83,-0.13],[1.05,-0.43],[1.48,-0.21],[0.67,0.16],[0.51,-0.28],
[0.40,1.40],[0.60,1.50],[0.75,1.30],[1.00,1.55],[1.20,1.20],
[0.30,0.95],[0.45,1.10],[0.60,0.90],[0.75,1.05],[0.90,0.88],[1.05,1.02],[1.20,0.85],[1.35,0.98],
[0.30,0.55],[0.45,0.45],[0.60,0.60],[0.75,0.42],[0.90,0.58],[1.05,0.40],[1.20,0.55],[1.35,0.38],
[0.35,0.10],[0.50,0.20],[0.65,0.05],[0.80,0.22],[0.95,0.02],[1.10,0.18],[1.25,0.00],[1.40,0.12],
[0.40,-0.35],[0.55,-0.25],[0.70,-0.45],[0.85,-0.30],[1.00,-0.50],[1.15,-0.35],[1.30,-0.55],
[0.60,-0.70],[0.85,-0.75],[1.10,-0.70],
[0.50,1.85],[0.72,1.85],[0.95,1.80],[1.15,1.75],
[0.42,1.25],[0.60,1.22],[0.78,1.20],[0.95,1.28],[1.12,1.10],[1.30,1.25],
[0.40,0.75],[0.52,0.75],[0.68,0.72],[0.82,0.78],[0.98,0.72],[1.12,0.70],[1.28,0.72],[1.45,0.70],[1.58,0.80],
[0.42,0.35],[0.55,0.35],[0.70,0.30],[0.85,0.38],[1.00,0.30],[1.15,0.32],[1.30,0.28],[1.50,0.30],
[0.45,-0.10],[0.58,-0.05],[0.72,-0.15],[0.88,-0.08],[1.02,-0.15],[1.15,-0.05],[1.30,-0.12],[1.50,-0.05],
[0.50,-0.50],[0.65,-0.60],[0.78,-0.55],[0.92,-0.65],[1.08,-0.60],[1.22,-0.70],[1.40,-0.55],
[0.55,-0.95],[0.72,-0.90],[0.95,-1.05],[1.12,-1.15],[1.30,-1.00]];
const ptsD5 = [[2.13,2.39],[2.18,2.15],[1.65,1.87],[1.95,1.87],[1.57,1.54],[1.62,1.54],[1.93,1.54],[1.91,1.37],[1.64,1.05],[1.75,1.13],[1.84,0.89],[2.02,1.05],[2.11,1.20],[2.18,1.05],[1.55,0.72],[1.73,0.65],[1.97,0.67],[2.18,0.62],[1.08,0.28],[1.48,0.39],[1.62,0.31],[1.73,0.46],[1.82,0.39],[2.02,0.46],[2.09,0.35],[2.35,0.20],[2.94,-0.04],[1.46,-0.13],[1.57,-0.28],[1.68,-0.34],[1.75,-0.06],[1.91,-0.13],[2.09,0.03],[1.48,-0.63],[1.82,-0.54],[1.84,-0.76],[1.95,-0.72],[2.00,-0.61],[2.17,-0.50],[2.20,-0.80],[1.80,0.17],[1.95,0.24],[1.68,0.09],[2.04,-0.20]];

// regression line (dashed) and confidence lines (dotted): [x0,y0,x1,y1]
const linesA = [
 [[-1.15,0.94,1.13,1.255],[-0.95,0.70,1.0,1.59],[-0.95,1.175,1.0,0.87]],
 [[-0.105,1.41,2.633,0.503],[0.08,1.01,2.24,1.11],[0.08,1.68,2.21,0.20]],
 [[-1.0,0.634,1.07,0.0],[-0.82,0.37,0.81,0.39],[-0.82,0.82,0.83,-0.20]],
 [[-0.045,0.40,2.09,-0.257],[0.12,0.10,1.80,0.08],[0.12,0.60,1.80,-0.40]],
 [[0.88,-0.12,3.04,0.10],[1.04,-0.62,2.91,0.72],[1.04,0.39,2.91,-0.57]]];
const linesB = [
 [[-1.136,0.77,1.13,0.94],[-0.96,0.48,1.03,1.405],[-0.96,1.09,1.06,0.42]],
 [[-0.07,0.86,2.62,0.755],[0.12,0.42,2.17,1.38],[0.12,1.31,2.17,0.16]],
 [[-0.99,0.445,1.09,0.33],[-0.80,0.09,0.86,0.75],[-0.80,0.79,0.86,-0.095]],
 [[-0.07,0.46,2.13,-0.24],[0.09,0.09,1.84,0.18],[0.09,0.755,1.84,-0.50]],
 [[0.88,0.385,3.08,0.326],[1.04,1.04,2.93,-0.50],[1.04,-0.28,2.93,1.16]]];
const linesC = [
 [[-1.15,1.0,1.12,0.576],[-0.95,0.70,0.85,0.98],[-0.95,1.23,0.90,0.27]],
 [[-0.095,1.12,2.06,0.54],[0.04,1.59,1.98,-0.13],[0.04,0.54,2.02,1.30]],
 [[-1.12,0.70,1.07,0.27],[-0.86,0.41,1.02,0.64],[-0.86,0.88,1.02,-0.10]],
 [[-0.10,0.51,2.64,-0.185],[0.07,0.25,2.18,0.25],[0.07,0.70,2.18,-0.38]],
 [[0.90,-0.06,3.08,0.0],[1.06,0.41,2.95,-0.64],[1.06,-0.56,2.95,0.65]]];
const linesD = [
 [[-1.10,0.89,1.12,0.74],[-0.89,1.29,0.89,0.31],[-0.89,0.54,0.89,1.22]],
 [[-0.11,0.87,2.11,0.79],[0.04,1.51,1.97,-0.06],[0.04,0.22,1.97,1.68]],
 [[-1.10,0.31,1.08,0.33],[-0.82,0.14,0.99,0.83],[-0.82,0.73,0.99,-0.17]],
 [[-0.09,0.45,2.63,-0.07],[0.11,0.09,2.20,0.42],[0.08,0.68,2.18,-0.43]],
 [[0.90,0.39,3.11,0.37],[1.06,1.05,2.96,-0.49],[1.06,-0.28,2.96,1.22]]];

// Bar panels
const groupsE = ['Unimpaired','MCI'];
const groupsF = ['Aβ -','Aβ +'];
const E_mem = [[1.039,0.374],[1.046,0.095],[null,-0.042]];
const E_memErr = [[0.039,0.046],[0.067,0.047],[null,0.075]];
const E_ef = [[0.800,0.361],[0.792,0.131],[null,0.324]];
const E_efErr = [[0.059,0.060],[0.092,0.060],[null,0.100]];
const F_mem = [[0.815,0.482],[0.845,0.229],[null,-0.053]];
const F_memErr = [[0.045,0.052],[0.083,0.050],[null,0.080]];
const F_ef = [[0.778,0.272],[0.793,0.182],[null,0.332]];
const F_efErr = [[0.058,0.063],[0.098,0.060],[null,0.102]];
const barTicksMEM = [0,0.4,0.8,1.2], barTextMEM = ['.0','.4','.8','1.2'];
const barTicksEF = [0,0.5,1.0], barTextEF = ['.0','.5','1.0'];

// ---------------- LAYOUT / DRAWING ----------------
Chart.defaults.font.family = "'Liberation Sans', Arial, Helvetica, sans-serif";
Chart.defaults.color = '#333';
const AXC = '#a9a9a9';
const TICKFONT = {size:15};

function el(cls, css, html) {
  const d = document.createElement('div');
  d.className = cls; d.style.cssText = css; if (html !== undefined) d.innerHTML = html;
  document.body.appendChild(d); return d;
}
function addCanvas(left, top, w, h) {
  const c = document.createElement('canvas');
  c.width = w; c.height = h;
  c.style.left = left + 'px'; c.style.top = top + 'px';
  c.style.width = w + 'px'; c.style.height = h + 'px';
  document.body.appendChild(c); return c;
}
const axisPlugin = {
  id: 'axlines',
  beforeDatasetsDraw(chart, args, opts) {
    const ctx = chart.ctx, a = chart.chartArea;
    ctx.save(); ctx.strokeStyle = AXC; ctx.lineWidth = 1.3; ctx.beginPath();
    ctx.moveTo(a.left, a.bottom); ctx.lineTo(a.right, a.bottom);
    if (opts.caps) {
      ctx.moveTo(a.left, a.bottom - 4); ctx.lineTo(a.left, a.bottom + 4);
      ctx.moveTo(a.right, a.bottom - 4); ctx.lineTo(a.right, a.bottom + 4);
    }
    if (opts.yLine) { ctx.moveTo(a.left, a.top); ctx.lineTo(a.left, a.bottom); }
    ctx.stroke(); ctx.restore();
  }
};
const errPlugin = {
  id: 'errbars',
  afterDatasetsDraw(chart) {
    const ctx = chart.ctx, ys = chart.scales.y;
    chart.data.datasets.forEach((ds, i) => {
      const meta = chart.getDatasetMeta(i);
      meta.data.forEach((bar, j) => {
        const v = ds.data[j].y, e = ds.errs[j];
        if (v == null || e == null) return;
        const x = bar.x, y1 = ys.getPixelForValue(v + e), y2 = ys.getPixelForValue(v - e);
        ctx.save(); ctx.strokeStyle = '#111'; ctx.lineWidth = 1.7; ctx.beginPath();
        ctx.moveTo(x, y1); ctx.lineTo(x, y2);
        ctx.moveTo(x - 5, y1); ctx.lineTo(x + 5, y1);
        ctx.moveTo(x - 5, y2); ctx.lineTo(x + 5, y2);
        ctx.stroke(); ctx.restore();
      });
    });
  }
};

const SHAPES = [
  {style:'circle', r:4.6}, {style:'rect', r:5.9}, {style:'circle', r:4.6}, {style:'rect', r:5.9}, {style:'triangle', r:6.0}
];

function scatter(row, ci, pts, lines) {
  const [L, R, xMin, xMax] = row.cols[ci];
  const ML = 60, MR = 14, MT = 12, MB = 30;
  const w = R - L + ML + MR, h = row.B - row.T + MT + MB;
  const c = addCanvas(L - ML, row.T - MT, w, h);
  const seg = (s, dash) => ({data:[{x:s[0],y:s[1]},{x:s[2],y:s[3]}], showLine:true, borderColor:'#1c1c1c',
    borderWidth:1.4, borderDash:dash, pointRadius:0, clip:false, fill:false});
  const shp = SHAPES[ci];
  const showY = ci === 0;
  new Chart(c, {
    type: 'scatter',
    data: {datasets: [seg(lines[0],[6,3.5]), seg(lines[1],[2,2.2]), seg(lines[2],[2,2.2]),
      {data: pts.map(p => ({x:p[0], y:p[1]})), pointStyle: shp.style, pointRadius: shp.r,
       pointBorderWidth:2, pointBorderColor:'#111', pointBackgroundColor:'#fff', showLine:false, clip:false}]},
    options: {
      responsive:false, animation:false, events:[], devicePixelRatio:1,
      layout:{padding:{left:0, right:MR, top:MT, bottom:0}},
      plugins:{legend:{display:false}, tooltip:{enabled:false}, axlines:{caps:true, yLine:showY}},
      scales:{
        x:{type:'linear', min:xMin, max:xMax, bounds:'data', grid:{display:false, drawTicks:false}, border:{display:false},
           ticks:{autoSkip:false, padding:4, font:TICKFONT, color:'#333', maxRotation:0},
           afterBuildTicks: s => { s.ticks = xTickVals[ci].map(v => ({value:v})); },
           afterFit: s => { s.height = MB; }},
        y:{type:'linear', min:row.yMin, max:row.yMax, bounds:'data', grid:{display:false, drawTicks:false}, border:{display:false},
           ticks:{display:showY, autoSkip:false, padding:3, font:TICKFONT, color:'#333', callback:(v,i) => row.yText[i]},
           afterBuildTicks: s => { s.ticks = row.yTicks.map(v => ({value:v})); },
           afterFit: s => { s.width = ML; }}
      }
    },
    plugins:[axisPlugin]
  });
}

const rowA = {T:38, B:313, yMin:-1.742, yMax:3.802, yTicks:yTicksMEM, yText:yTextMEM,
  cols:[[76,253,-1.163,1.143],[272,453,-0.131,2.633],[479,654,-1.0,1.067],[677,849,-0.053,2.089],[871,1048,0.88,3.089]]};
const rowB = {T:365, B:642, yMin:-2.837, yMax:3.305, yTicks:yTicksEF, yText:yTextEF,
  cols:[[78,254,-1.149,1.14],[277,457,-0.087,2.62],[479,655,-1.0,1.09],[678,851,-0.067,2.087],[875,1052,0.877,3.103]]};
const rowC = {T:713, B:987, yMin:-1.725, yMax:3.822, yTicks:yTicksMEM, yText:yTextMEM,
  cols:[[80,257,-1.158,1.144],[277,455,-0.109,2.108],[475,653,-1.123,1.124],[674,851,-0.109,2.615],[872,1051,0.881,3.124]]};
const rowD = {T:1038, B:1314, yMin:-2.776, yMax:3.358, yTicks:yTicksEF, yText:yTextEF,
  cols:[[84,259,-1.109,1.109],[281,454,-0.11,2.114],[475,652,-1.108,1.101],[674,852,-0.091,2.623],[874,1048,0.903,3.113]]};

// frames
el('frame','left:7px;top:7px;width:1074px;height:657px;');
el('frame','left:7px;top:681px;width:1074px;height:711px;');
el('frame','left:7px;top:1402px;width:538px;height:320px;');
el('frame','left:552px;top:1402px;width:529px;height:320px;');

[ptsA1,ptsA2,ptsA3,ptsA4,ptsA5].forEach((p,i) => scatter(rowA, i, p, linesA[i]));
[ptsB1,ptsB2,ptsB3,ptsB4,ptsB5].forEach((p,i) => scatter(rowB, i, p, linesB[i]));
[ptsC1,ptsC2,ptsC3,ptsC4,ptsC5].forEach((p,i) => scatter(rowC, i, p, linesC[i]));
[ptsD1,ptsD2,ptsD3,ptsD4,ptsD5].forEach((p,i) => scatter(rowD, i, p, linesD[i]));

function bars(g, series, errs, colors) {
  const ML = 50, MR = 10, MT = 10, MB = 20;
  const w = g.R - g.L + ML + MR, h = g.B - g.T + MT + MB;
  const c = addCanvas(g.L - ML, g.T - MT, w, h);
  new Chart(c, {
    type:'bar',
    data:{datasets: series.map((s,i) => ({data: s.map((v,j) => ({x:j, y:v})), errs: errs[i],
      backgroundColor: colors[i], borderColor:'#262626', borderWidth:1.6, borderSkipped:false, inflateAmount:0,
      barThickness: g.pitch, maxBarThickness: g.bw, skipNull:true}))},
    options:{
      responsive:false, animation:false, events:[], devicePixelRatio:1,
      layout:{padding:{left:0, right:MR, top:MT, bottom:0}},
      plugins:{legend:{display:false}, tooltip:{enabled:false}, axlines:{caps:false, yLine:true}},
      scales:{
        x:{type:'linear', offset:false, min:g.xMin, max:g.xMax, bounds:'data', grid:{display:false, drawTicks:false}, border:{display:false},
           ticks:{display:false}, afterFit: s => { s.height = MB; }},
        y:{type:'linear', min:g.yMin, max:g.yMax, bounds:'data', grid:{display:false, drawTicks:false}, border:{display:false},
           ticks:{autoSkip:false, padding:4, font:TICKFONT, color:'#333', callback:(v,i) => g.yText[i]},
           afterBuildTicks: s => { s.ticks = g.yTicks.map(v => ({value:v})); },
           afterFit: s => { s.width = ML; }}
      }
    },
    plugins:[axisPlugin, errPlugin]
  });
}
const colE = ['#ece6d3','#989694','#474b4a'];
const colF = ['#ece6d3','#989694','#55625d'];
bars({L:87,R:298,T:1427,B:1650,yMin:-0.254,yMax:1.225,xMin:-0.412,xMax:1.568,pitch:33.6,bw:30.9,yTicks:barTicksMEM,yText:barTextMEM}, E_mem, E_memErr, colE);
bars({L:338,R:533,T:1427,B:1652,yMin:0,yMax:1.017,xMin:-0.418,xMax:1.538,pitch:30.6,bw:28,yTicks:barTicksEF,yText:barTextEF}, E_ef, E_efErr, colE);
bars({L:600,R:797,T:1417,B:1650,yMin:-0.267,yMax:1.287,xMin:-0.398,xMax:1.551,pitch:31.7,bw:28.8,yTicks:barTicksMEM,yText:barTextMEM}, F_mem, F_memErr, colF);
bars({L:830,R:1025,T:1417,B:1652,yMin:0,yMax:1.059,xMin:-0.398,xMax:1.539,pitch:30.8,bw:28.3,yTicks:barTicksEF,yText:barTextEF}, F_ef, F_efErr, colF);

// panel letters
[['A',15.5,15,44,42],['B',15.5,342,45,43],['C',14.5,690,44,43],['D',16.5,1019,45,43],['E',12,1415,46,40],['F',1032,1417,43,38]]
 .forEach(t => el('letter', `left:${t[1]}px;top:${t[2]}px;width:${t[3]}px;height:${t[4]}px;`, t[0]));

// subgroup titles
[['ε3ε3 Unimpaired',87,13,159,27],['ε4ε3/ε4ε4 Unimpaired',259,13,209,27],['ε3ε3 MCI',518,13,92,27],['ε4ε3 MCI',714,13,92,27],['ε4ε4 MCI',906,13,94,27],
 ['ε3ε3 Aβ -',117,691,97,27],['ε4ε3/ε4ε4 Aβ -',288,691,150,27],['ε3ε3 Aβ +',514,691,97,27],['ε4ε3 Aβ +',699,691,98,27],['ε4ε4 Aβ +',910,691,98,27]]
 .forEach(t => el('title', `left:${t[1]}px;top:${t[2]}px;width:${t[3]}px;height:${t[4]}px;`, t[0]));

// statistics
function fmt(s) {
  return s.replace('b =', '<i>b</i> =').replace('p =', '<i>p</i> =').replace('Δr2', 'Δ<i>r</i><sup>2</sup>');
}
const statTexts = [
 [80,268,'b = 0.141; Δr2 = 0.003'],[80,300,'p = 0.399'],
 [277,268,'b = -0.320; Δr2 = 0.023'],[277,300,'p = 0.131'],
 [477,58,'b = -0.287; Δr2 = 0.022'],[477,88,'p = 0.022 *'],
 [683,58,'b = -0.294; Δr2 = 0.031'],[683,88,'p = 0.005 **'],
 [890,58,'b = 0.101; Δr2 = 0.010'],[890,88,'p = 0.426'],
 [84,595,'b = 0.083; Δr2 = 0.003'],[84,625,'p = 0.432'],
 [281,595,'b = -0.041; Δr2 < 0.001'],[281,625,'p = 0.830'],
 [474,359,'b = -0.047; Δr2 = 0.001'],[484,625,'p = 0.537'],
 [676,358,'b = -0.335; Δr2 = 0.026'],[676,388,'p = 0.008 **'],
 [879,593,'b = -0.021; Δr2 = 0.004'],[879,623,'p = 0.590'],
 [85,744,'b = -0.186; Δr2 = 0.006'],[85,972,'p = 0.195'],
 [286,744,'b = -0.259; Δr2 = 0.025'],[282,972,'p = 0.136'],
 [488,744,'b = -0.194; Δr2 = 0.011'],[479,972,'p = 0.121'],
 [763,742,'b = -0.244;'],[763,761,'Δr2 = 0.016'],[763,784,'p = 0.048 *'],
 [872,740,'b = 0.034; Δr2 = 0.005'],[872,771,'p = 0.580'],
 [85,1037,'b = -0.061; Δr2 < 0.001'],[88,1299,'p = 0.455'],
 [282,1268,'b = -0.028; Δr2 = 0.004'],[282,1299,'p = 0.511'],
 [480,1037,'b = 0.013; Δr2 < 0.001'],[477,1299,'p = 0.862'],
 [681,1037,'b = -0.185; Δr2 = 0.007'],[771,1298,'p = 0.190'],
 [876,1267,'b = -0.009; Δr2 = 0.008'],[876,1298,'p = 0.455']];
statTexts.forEach(t => el('stat', `left:${t[0]}px;top:${t[1]-9.5}px;`, fmt(t[2])));

// axis titles
[['ADNI-MEM',33,176],['ADNI-EF',33,505],['ADNI-MEM',33,848],['ADNI-EF',36,1181],
 ['ADNI-MEM',57,1533],['ADNI-EF',309,1546],['ADNI-MEM',566,1521],['ADNI-EF',802,1550]]
 .forEach(t => el('ylab', `left:${t[1]}px;top:${t[2]}px;`, t[0]));
el('lab', 'left:375px;top:1338px;font-size:34px;line-height:34px;', 'Polygenic Hazard Score');

// bar group labels
[[groupsE[0],90,1427,'left'],[groupsE[1],235,1532,'c'],[groupsE[0],341,1428,'left'],[groupsE[1],478.5,1533,'c'],
 [groupsF[0],635.6,1446,'c'],[groupsF[1],739,1505,'c'],[groupsF[0],866.7,1438,'c'],[groupsF[1],970.4,1535,'c']]
 .forEach(t => el('lab', `left:${t[1]}px;top:${t[2]-10}px;` + (t[3]==='c' ? 'transform:translateX(-50%);' : ''), t[0]));

// legends
const legendNames = ['ε3ε3','ε4ε3','ε4ε4'];
function legend(bx, sx, sw, tx, starX, cols) {
  el('frame', `left:${bx}px;top:1409px;width:83px;height:77px;border-color:#111;`);
  const ys = [1411, 1437.5, 1463.5];
  legendNames.forEach((n, i) => {
    el('sw', `left:${sx}px;top:${ys[i]}px;width:${sw}px;height:19px;background:${cols[i]};`);
    el('lg', `left:${tx}px;top:${ys[i] - 1}px;`, n);
  });
  el('lg', `left:${starX}px;top:1434px;font-size:15px;line-height:15px;`, '*');
}
legend(210, 214, 16, 233.5, 286, colE);
legend(696, 700, 15, 716.6, 772.5, colF);
</script>
</body></html>
